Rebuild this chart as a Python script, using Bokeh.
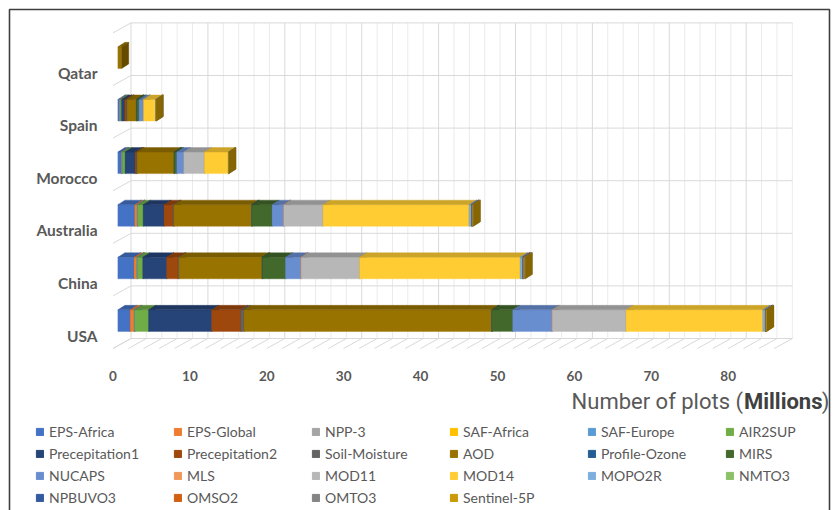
from bokeh.plotting import figure
from bokeh.models import ColumnDataSource, Range1d, Legend, LegendItem, Label
from bokeh.embed import file_html
from bokeh.resources import INLINE
from bokeh.core.properties import value

# ---------------- data ----------------
countries = ["USA", "China", "Australia", "Morocco", "Spain", "Qatar"]

series_names = ["EPS-Africa", "EPS-Global", "NPP-3", "SAF-Africa", "SAF-Europe", "AIR2SUP",
                "Precepitation1", "Precepitation2", "Soil-Moisture", "AOD", "Profile-Ozone", "MIRS",
                "NUCAPS", "MLS", "MOD11", "MOD14", "MOPO2R", "NMTO3",
                "NPBUVO3", "OMSO2", "OMTO3", "Sentinel-5P"]

series_colors = ["#4472C4", "#ED7D31", "#A5A5A5", "#FFC000", "#5B9BD5", "#70AD47",
                 "#264478", "#9E480E", "#636363", "#997300", "#255E91", "#43682B",
                 "#698ED0", "#F1975A", "#B7B7B7", "#FFCD33", "#7CAFDD", "#8CC168",
                 "#335AA1", "#D26012", "#848484", "#CC9A06"]

# values (millions) per country, order: USA, China, Australia, Morocco, Spain, Qatar
eps_africa     = [1.6, 2.1, 2.2, 0.45, 0.15, 0]
eps_global     = [0.5, 0.35, 0.3, 0.05, 0.05, 0]
npp_3          = [0.05, 0.05, 0.05, 0, 0, 0]
saf_africa     = [0, 0, 0, 0, 0, 0]
saf_europe     = [0.05, 0.05, 0.05, 0.1, 0.15, 0]
air2sup        = [1.8, 0.7, 0.7, 0.35, 0.15, 0]
precepitation1 = [8.2, 3.1, 2.7, 1.3, 0.4, 0]
precepitation2 = [3.8, 1.5, 1.2, 0.2, 0.25, 0]
soil_moisture  = [0.4, 0.1, 0.1, 0.05, 0.05, 0]
aod            = [32.2, 10.8, 10.1, 4.8, 1.2, 0.5]
profile_ozone  = [0.05, 0.05, 0.05, 0.05, 0.05, 0]
mirs           = [2.7, 3.0, 2.6, 0.3, 0.3, 0]
nucaps         = [5.1, 2.0, 1.5, 0.9, 0.5, 0]
mls            = [0.03, 0.03, 0.03, 0, 0, 0]
mod11          = [9.6, 7.6, 5.1, 2.7, 0.1, 0]
mod14          = [17.8, 20.9, 19.0, 3.1, 1.55, 0]
mopo2r         = [0.3, 0.3, 0.3, 0.05, 0.05, 0]
nmto3          = [0.03, 0.03, 0.03, 0, 0, 0]
npbuvo3        = [0.03, 0.03, 0.03, 0, 0, 0]
omso2          = [0.03, 0.03, 0.03, 0, 0, 0]
omto3          = [0.05, 0.2, 0.1, 0.02, 0.02, 0]
sentinel_5p    = [0.08, 0.08, 0.08, 0.02, 0.02, 0]

series_values = [eps_africa, eps_global, npp_3, saf_africa, saf_europe, air2sup,
                 precepitation1, precepitation2, soil_moisture, aod, profile_ozone, mirs,
                 nucaps, mls, mod11, mod14, mopo2r, nmto3,
                 npbuvo3, omso2, omto3, sentinel_5p]

x_ticks = [0, 10, 20, 30, 40, 50, 60, 70, 80]
axis_max = 86
minor_step = 2

# ---------------- geometry (pixel -> data mapping) ----------------
W, H = 833, 510
PX0, SX = 112.5, 7.69     # px of value 0 on front plane, px per unit
PY0, SY = 348.0, 52.6     # px of front floor edge, px per category

def dx(px):
    return (px - PX0) / SX

def dy(py):
    return (PY0 - py) / SY

DEPTH_X, DEPTH_Y = 18.0 / SX, 10.0 / SY          # full depth of the 3D box
BAR_X0 = 4.9 / SX                                  # bar front face offset
BAR_DX, BAR_DY = 7.0 / SX, 4.5 / SY                # bar depth
BAR_HALF = 0.205
BAR_CENTER = 0.53

def darken(c, f):
    c = c.lstrip("#")
    r, g, b = (int(c[i:i + 2], 16) for i in (0, 2, 4))
    return "#%02x%02x%02x" % (int(r * f), int(g * f), int(b * f))

p = figure(width=W, height=H, output_backend="svg", toolbar_location=None,
           x_range=Range1d(dx(0), dx(W)), y_range=Range1d(dy(H), dy(0)),
           x_axis_type=None, y_axis_type=None, title=None, min_border=0)
p.outline_line_color = None
p.background_fill_color = "white"
p.border_fill_color = "white"
p.xgrid.visible = False
p.ygrid.visible = False

ncat = len(countries)
MAJOR, MINOR = "#D9D9D9", "#EBEBEB"

# back wall vertical gridlines
gx0, gy0, gx1, gy1, gc = [], [], [], [], []
for v in range(0, axis_max + 1, minor_step):
    gx0.append(v + DEPTH_X); gx1.append(v + DEPTH_X)
    gy0.append(DEPTH_Y); gy1.append(ncat + DEPTH_Y)
    gc.append(MAJOR if v % 10 == 0 else MINOR)
p.segment(x0=gx0, y0=gy0, x1=gx1, y1=gy1, line_color=gc, line_width=1)

# floor hatches
fx0, fy0, fx1, fy1 = [], [], [], []
for v in range(0, axis_max + 1, minor_step):
    fx0.append(v); fy0.append(0); fx1.append(v + DEPTH_X); fy1.append(DEPTH_Y)
p.segment(x0=fx0, y0=fy0, x1=fx1, y1=fy1, line_color=MAJOR, line_width=1)

# back wall horizontal lines and left wall diagonals
hk = list(range(ncat + 1))
p.segment(x0=[DEPTH_X] * len(hk), y0=[k + DEPTH_Y for k in hk],
          x1=[axis_max + DEPTH_X] * len(hk), y1=[k + DEPTH_Y for k in hk],
          line_color=MAJOR, line_width=1)
p.segment(x0=[0] * len(hk), y0=hk, x1=[DEPTH_X] * len(hk), y1=[k + DEPTH_Y for k in hk],
          line_color=MAJOR, line_width=1)

# ---------------- 3D stacked bars ----------------
cum = [0.0] * ncat
for name, col, vals in zip(series_names, series_colors, series_values):
    xs, ys, cols = [], [], []
    for i, v in enumerate(vals):
        s = cum[i]
        e = s + v
        cum[i] = e
        if v <= 0:
            continue
        yc = i + BAR_CENTER
        yb, yt = yc - BAR_HALF, yc + BAR_HALF
        x0, x1 = s + BAR_X0, e + BAR_X0
        xs.append([x0, x1, x1, x0]); ys.append([yb, yb, yt, yt]); cols.append(col)
        xs.append([x0, x1, x1 + BAR_DX, x0 + BAR_DX]); ys.append([yt, yt, yt + BAR_DY, yt + BAR_DY])
        cols.append(darken(col, 0.8))
        xs.append([x1, x1 + BAR_DX, x1 + BAR_DX, x1]); ys.append([yb, yb + BAR_DY, yt + BAR_DY, yt])
        cols.append(darken(col, 0.66))
    if xs:
        src = ColumnDataSource(dict(xs=xs, ys=ys, c=cols))
        p.patches("xs", "ys", source=src, fill_color="c", line_color="c", line_width=0.4)

# ---------------- texts ----------------
TXT = "#595959"
p.text(x=[dx(97)] * ncat, y=[i + 0.245 for i in range(ncat)], text=countries,
       text_align="right", text_baseline="middle", text_font=value("Lato"),
       text_font_style="bold", text_font_size="15.5px", text_color=TXT)
p.text(x=x_ticks, y=[dy(375)] * len(x_ticks), text=[str(t) for t in x_ticks],
       text_align="center", text_baseline="middle", text_font=value("Lato"),
       text_font_style="bold", text_font_size="13.5px", text_color=TXT)

TFONT = "Roboto"
p.add_layout(Label(x=dx(829), y=dy(401), text=")", text_align="right", text_baseline="middle",
                   text_font=TFONT, text_font_size="22px", text_color=TXT))
p.add_layout(Label(x=dx(822), y=dy(401), text="Millions", text_align="right", text_baseline="middle",
                   text_font=TFONT, text_font_style="bold", text_font_size="22px", text_color="#404040"))
p.add_layout(Label(x=dx(748), y=dy(401), text="Number  of plots (", text_align="right",
                   text_baseline="middle", text_font=TFONT, text_font_size="22px", text_color=TXT))

# outer chart border
p.line(x=[dx(9), dx(9), dx(829), dx(829)], y=[dy(515), dy(9), dy(9), dy(515)],
       line_color="#3F3F3F", line_width=1.6)

# ---------------- legend (swatch renderers kept off-screen) ----------------
items = []
for name, col in zip(series_names, series_colors):
    r = p.rect(x=[dx(-200)], y=[dy(-200)], width=1, height=1, fill_color=col, line_color=col)
    items.append(LegendItem(label=name, renderers=[r]))
legend = Legend(items=items, location=(35, 3), orientation="horizontal", ncols=6,
                glyph_width=9, glyph_height=9, label_standoff=5, label_width=122,
                label_height=20, spacing=2, padding=0, margin=0,
                border_line_color=None, background_fill_alpha=0,
                label_text_font="Lato", label_text_font_size="14px", label_text_color=TXT)
p.add_layout(legend)

open("out.html", "w").write(file_html(p, INLINE))
